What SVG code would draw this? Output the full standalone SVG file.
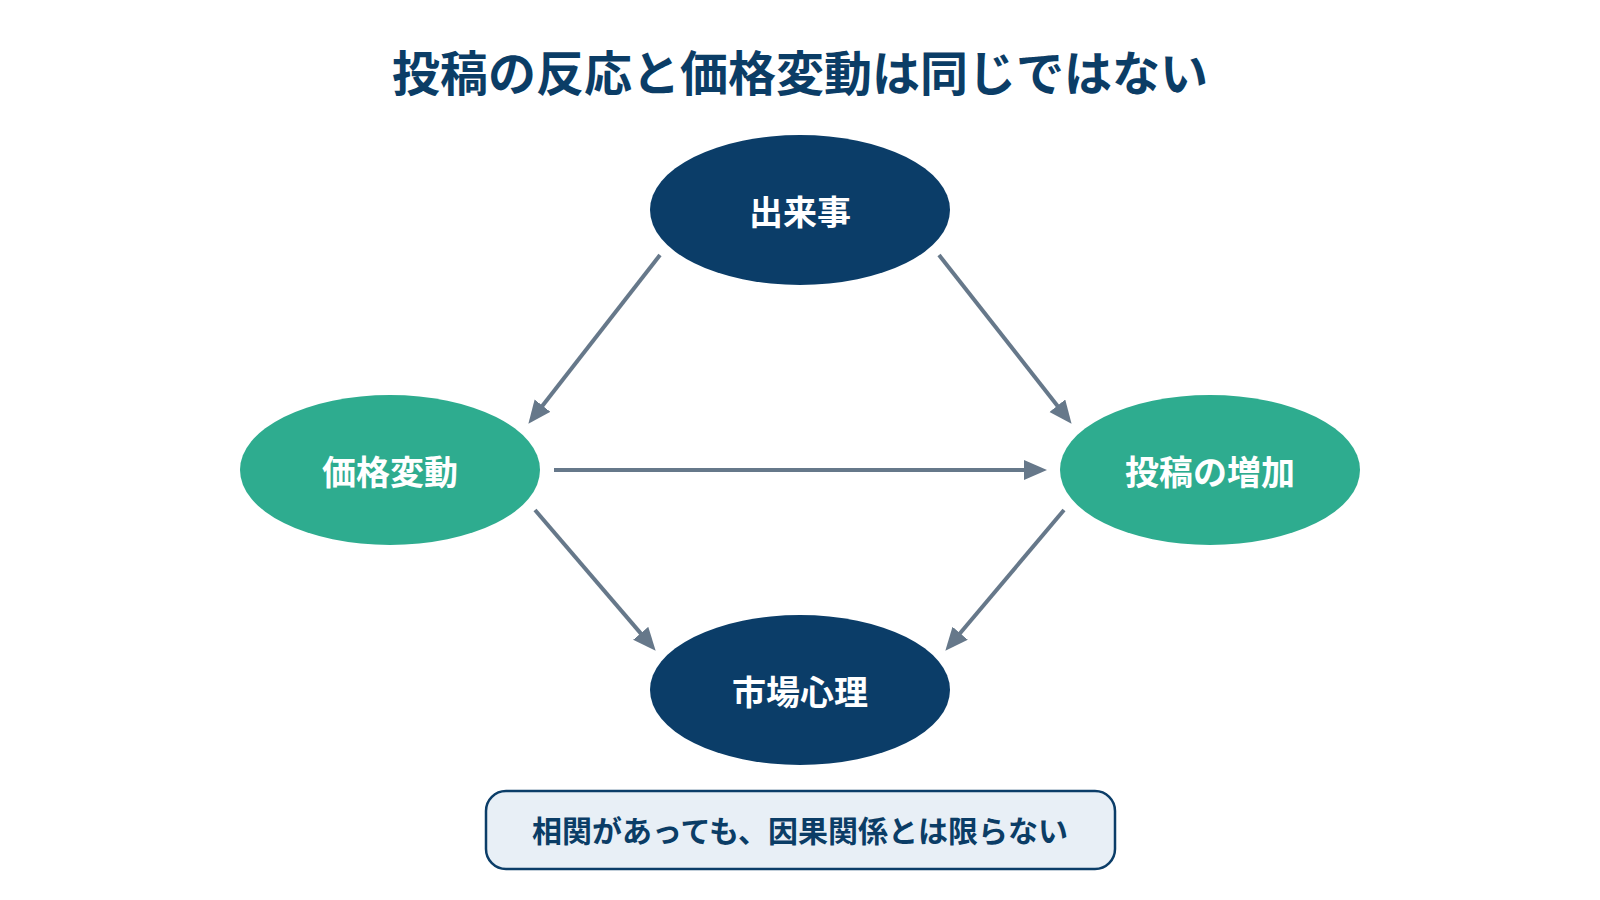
<svg xmlns="http://www.w3.org/2000/svg" width="1600" height="900" viewBox="0 0 1600 900">
<defs>
<style>
.t{font-family:"Noto Sans CJK JP","Noto Sans",sans-serif;font-weight:700;text-anchor:middle;dominant-baseline:central}
.title{font-size:48px;fill:#0b3d66}
.nt{font-size:34px;fill:#ffffff}
.dark{fill:#0b3d68}
.teal{fill:#2eac8f}
.c{stroke:#66788a;stroke-width:4;fill:none;marker-end:url(#ah)}
.note{font-size:30px;fill:#0b3d66}
</style>
<marker id="ah" markerUnits="userSpaceOnUse" markerWidth="26" markerHeight="22" refX="8" refY="10" orient="auto">
<path d="M0,0 L23,10 L0,20 Z" fill="#66788a"/>
</marker>
</defs>
<rect width="1600" height="900" fill="#ffffff"/>
<text class="t title" x="800" y="70">投稿の反応と価格変動は同じではない</text>
<g id="connectors">
<line class="c" x1="660" y1="255" x2="537.6" y2="412"/>
<line class="c" x1="939" y1="255" x2="1062.3" y2="412"/>
<line class="c" x1="554" y1="470" x2="1032" y2="470"/>
<line class="c" x1="535" y1="510" x2="645.9" y2="639.4"/>
<line class="c" x1="1064" y1="510" x2="955" y2="639.3"/>
</g>
<g id="node-event">
<ellipse class="dark" cx="800" cy="210" rx="150" ry="75"/>
<text class="t nt" x="800" y="210">出来事</text>
</g>
<g id="node-price">
<ellipse class="teal" cx="390" cy="470" rx="150" ry="75"/>
<text class="t nt" x="390" y="470">価格変動</text>
</g>
<g id="node-posts">
<ellipse class="teal" cx="1210" cy="470" rx="150" ry="75"/>
<text class="t nt" x="1210" y="470">投稿の増加</text>
</g>
<g id="node-sentiment">
<ellipse class="dark" cx="800" cy="690" rx="150" ry="75"/>
<text class="t nt" x="800" y="690">市場心理</text>
</g>
<g id="note">
<rect x="486" y="791" width="629" height="78" rx="20" fill="#e8eff6" stroke="#0b3d68" stroke-width="2.5"/>
<text class="t note" x="800" y="829">相関があっても、因果関係とは限らない</text>
</g>
</svg>
